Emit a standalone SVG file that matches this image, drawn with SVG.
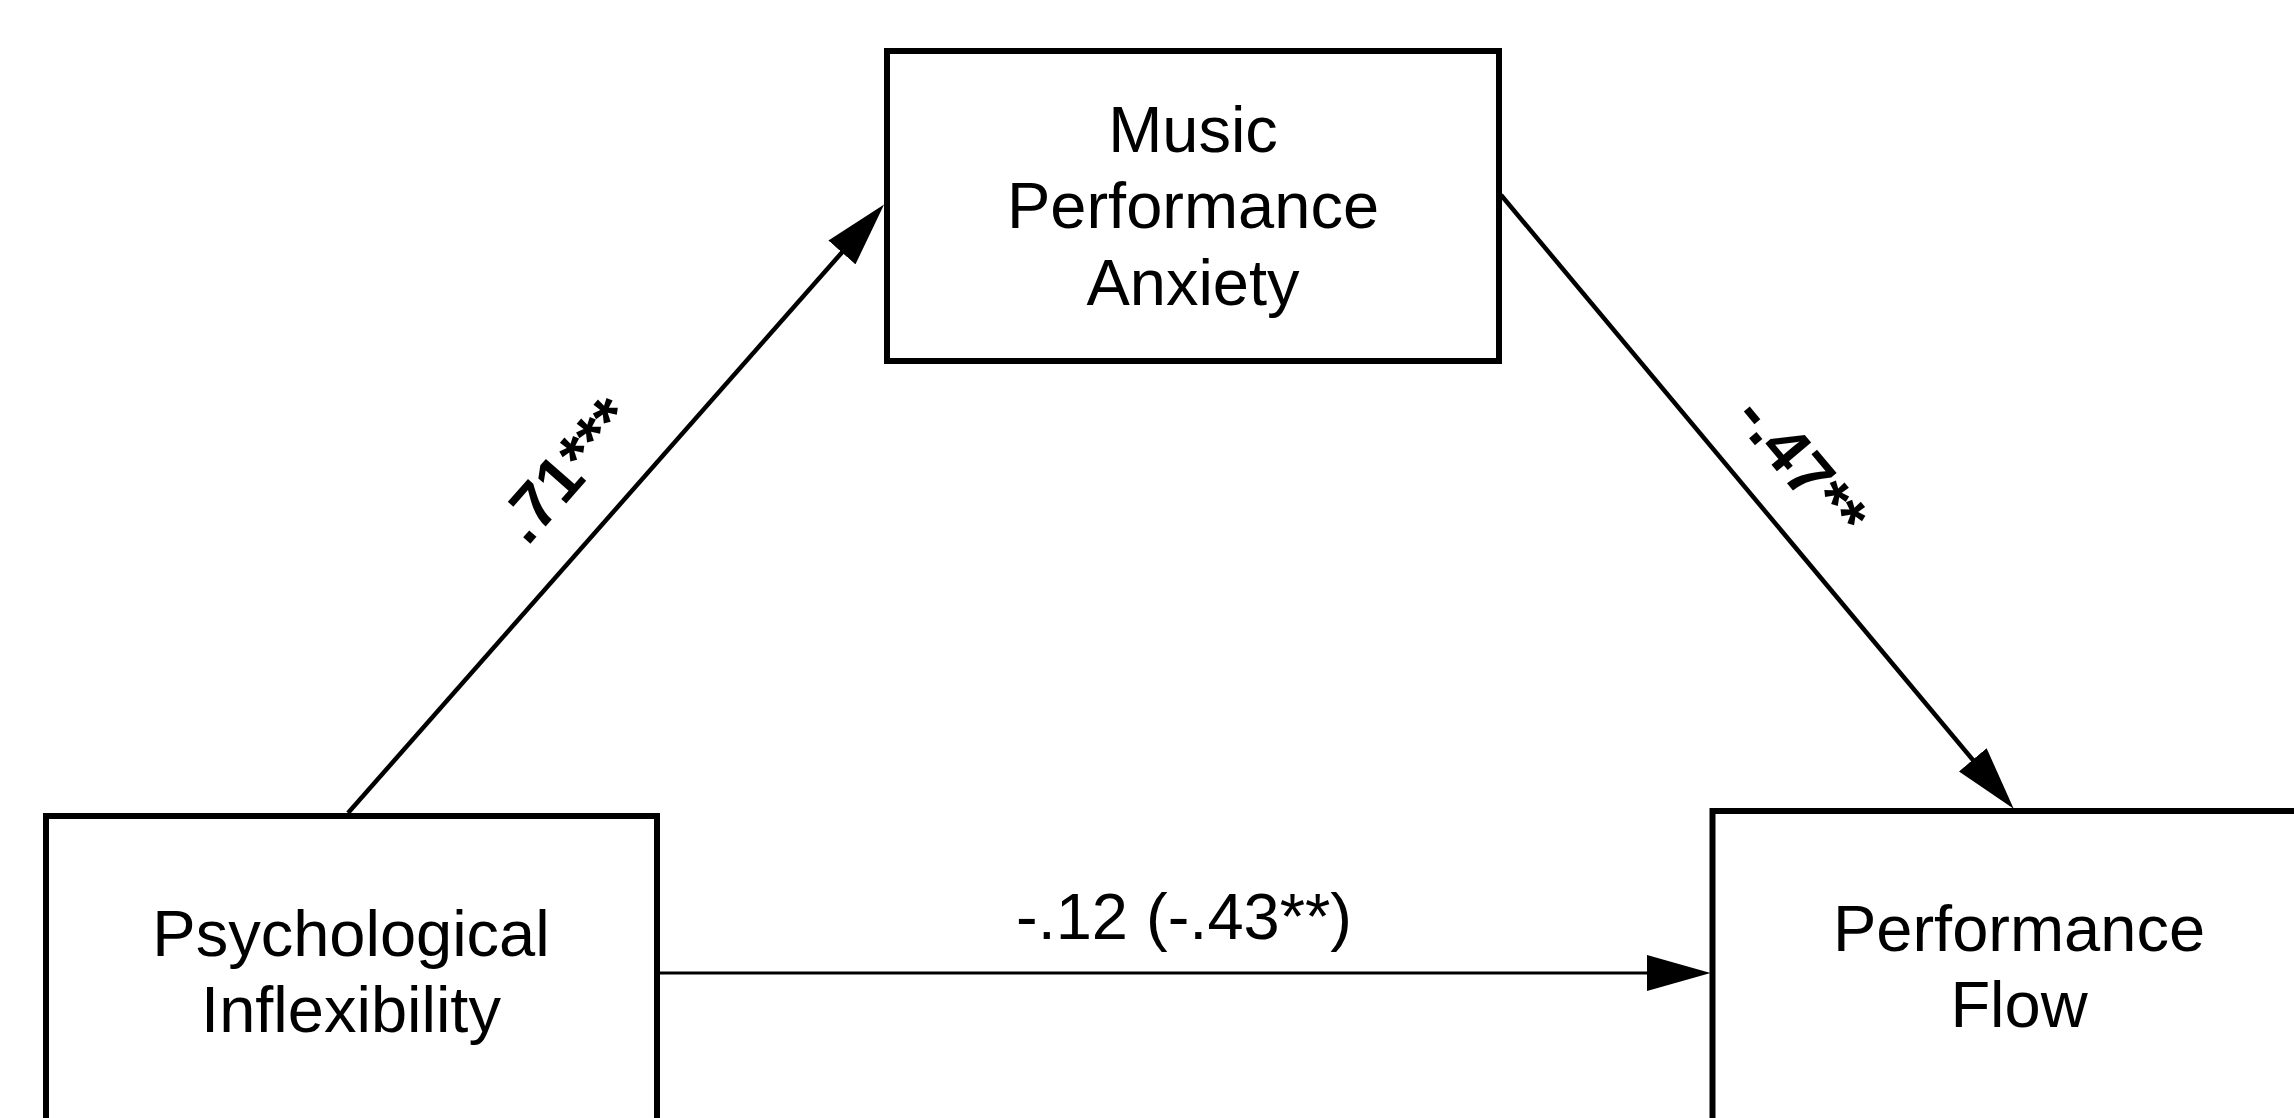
<svg xmlns="http://www.w3.org/2000/svg" width="2294" height="1118" viewBox="0 0 2294 1118">
<style>
.box{fill:#fff;stroke:#000;stroke-width:6}
.lbl{font-family:"Liberation Sans",Arial,sans-serif;font-size:65px;fill:#000;text-anchor:middle}
.b{font-weight:bold}
.edge{stroke:#000;fill:none}
</style>
<defs>
<marker id="ah" markerUnits="userSpaceOnUse" markerWidth="64" markerHeight="36" refX="42" refY="17.5" orient="auto" viewBox="0 0 62 35">
<path d="M0,0 L62,17.5 L0,35 z" fill="#000"/>
</marker>
</defs>
<rect width="2294" height="1118" fill="#fff"/>
<g id="connectors">
<line class="edge" x1="348" y1="813" x2="870.5" y2="220" stroke-width="4.5" marker-end="url(#ah)"/>
<line class="edge" x1="1501" y1="195" x2="2000.5" y2="793" stroke-width="4.5" marker-end="url(#ah)"/>
<line class="edge" x1="659" y1="973" x2="1690" y2="973" stroke-width="3" marker-end="url(#ah)"/>
<text class="lbl b" transform="translate(582.5,484.7) rotate(-48.6)">.71***</text>
<text class="lbl b" transform="translate(1784.6,480.4) rotate(50)">-.47**</text>
<text class="lbl" x="1184" y="939">-.12 (-.43**)</text>
</g>
<g id="node-mpa">
<rect class="box" x="887" y="51" width="612" height="310"/>
<text class="lbl" x="1193" y="152">Music</text>
<text class="lbl" x="1193" y="228">Performance</text>
<text class="lbl" x="1193" y="305">Anxiety</text>
</g>
<g id="node-pi">
<rect class="box" x="46" y="816" width="611" height="330"/>
<text class="lbl" x="351" y="956">Psychological</text>
<text class="lbl" x="351" y="1032">Inflexibility</text>
</g>
<g id="node-pf">
<rect class="box" x="1712.5" y="811" width="612" height="330"/>
<text class="lbl" x="2019" y="951">Performance</text>
<text class="lbl" x="2019" y="1027">Flow</text>
</g>
</svg>
